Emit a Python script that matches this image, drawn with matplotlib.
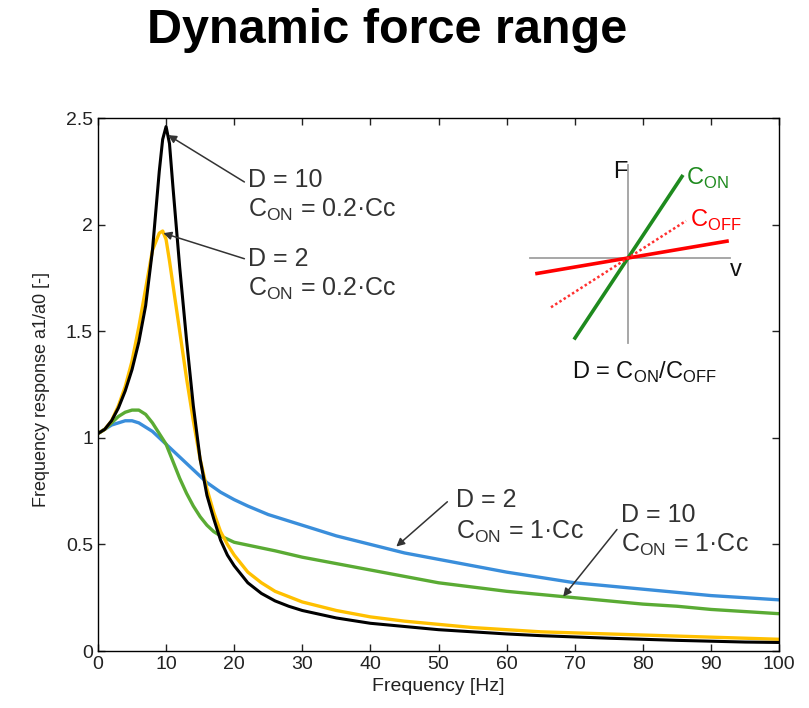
import numpy as np
import matplotlib.pyplot as plt

plt.rcParams['font.family'] = ['Liberation Sans', 'DejaVu Sans']
plt.rcParams['mathtext.fontset'] = 'custom'
plt.rcParams['mathtext.rm'] = 'Liberation Sans'

# D = 10, C_ON = 0.2 Cc (black)
x_black = [0, 1, 2, 3, 4, 5, 6, 7, 8, 9, 9.5, 10, 10.5, 11, 12, 13, 14, 15, 16, 17, 18, 19,
           20, 22, 24, 26, 28, 30, 35, 40, 45, 50, 55, 60, 65, 70, 75, 80, 85, 90, 95, 100]
y_black = [1.02, 1.04, 1.08, 1.14, 1.22, 1.32, 1.45, 1.62, 1.88, 2.25, 2.40, 2.46, 2.38, 2.18,
           1.80, 1.46, 1.15, 0.90, 0.73, 0.62, 0.52, 0.45, 0.40, 0.32, 0.27, 0.235, 0.21, 0.19,
           0.155, 0.13, 0.115, 0.10, 0.09, 0.08, 0.072, 0.066, 0.06, 0.055, 0.05, 0.046, 0.042, 0.04]

# D = 2, C_ON = 0.2 Cc (yellow)
x_yellow = x_black
y_yellow = [1.02, 1.04, 1.08, 1.15, 1.24, 1.36, 1.52, 1.70, 1.88, 1.96, 1.97, 1.93, 1.83, 1.72,
            1.50, 1.28, 1.08, 0.90, 0.76, 0.65, 0.56, 0.50, 0.45, 0.37, 0.32, 0.28, 0.255, 0.23,
            0.19, 0.16, 0.14, 0.125, 0.11, 0.10, 0.09, 0.085, 0.08, 0.075, 0.07, 0.065, 0.06, 0.055]

# D = 10, C_ON = 1 Cc (green)
x_green = [0, 1, 2, 3, 4, 5, 6, 7, 8, 9, 10, 11, 12, 13, 14, 15, 16, 17, 18, 20, 23, 26, 30,
           35, 40, 45, 50, 55, 60, 65, 70, 75, 80, 85, 90, 95, 100]
y_green = [1.02, 1.04, 1.07, 1.10, 1.12, 1.13, 1.13, 1.11, 1.07, 1.02, 0.97, 0.89, 0.81, 0.74,
           0.68, 0.63, 0.59, 0.56, 0.54, 0.51, 0.49, 0.47, 0.44, 0.41, 0.38, 0.35, 0.32, 0.30,
           0.28, 0.265, 0.25, 0.235, 0.22, 0.21, 0.195, 0.185, 0.175]

# D = 2, C_ON = 1 Cc (blue)
x_blue = [0, 1, 2, 3, 4, 5, 6, 7, 8, 9, 10, 12, 14, 16, 18, 20, 22, 25, 30, 35, 40, 45, 50,
          55, 60, 65, 70, 75, 80, 85, 90, 95, 100]
y_blue = [1.02, 1.04, 1.06, 1.07, 1.08, 1.08, 1.07, 1.05, 1.03, 1.00, 0.97, 0.91, 0.85, 0.79,
          0.745, 0.71, 0.68, 0.64, 0.59, 0.54, 0.50, 0.46, 0.43, 0.40, 0.37, 0.345, 0.32, 0.305,
          0.29, 0.275, 0.26, 0.25, 0.24]

narrow = ['Liberation Sans Narrow', 'Liberation Sans', 'DejaVu Sans']

fig = plt.figure(figsize=(8.09, 7.08), dpi=100)
ax = fig.add_axes([0.1211, 0.0805, 0.8419, 0.7528])

ax.plot(x_blue, y_blue, color='#3a8edb', lw=2.4)
ax.plot(x_green, y_green, color='#5aab34', lw=2.4)
ax.plot(x_yellow, y_yellow, color='#ffc000', lw=2.4)
ax.plot(x_black, y_black, color='black', lw=2.2)

ax.set_xlim(0, 100)
ax.set_ylim(0, 2.5)
ax.set_xticks(np.arange(0, 101, 10))
ax.set_yticks([0, 0.5, 1, 1.5, 2, 2.5])
ax.set_yticklabels(['0', '0.5', '1', '1.5', '2', '2.5'])
ax.tick_params(direction='in', top=True, right=True, length=5, labelsize=14, width=1,
               colors='#222222')
for lab in ax.get_xticklabels() + ax.get_yticklabels():
    lab.set_family(narrow)
for s in ax.spines.values():
    s.set_linewidth(1)
ax.set_xlabel('Frequency [Hz]', fontsize=14, color='#222222', labelpad=4, family=narrow)
ax.set_ylabel('Frequency response a1/a0 [-]', fontsize=13, color='#222222', family=narrow)
ax.yaxis.set_label_coords(-0.071, 0.49)

fig.text(0.479, 0.957, 'Dynamic force range', ha='center', va='center',
         fontsize=35, fontweight='bold')

# annotations
tc = '#333333'
arrow = dict(arrowstyle='-|>', color='#333333', lw=1.1, mutation_scale=12, shrinkA=0, shrinkB=0)
ax.annotate('', xy=(10.3, 2.42), xytext=(21.5, 2.2), arrowprops=arrow)
ax.text(22.0, 2.21, 'D = 10', fontsize=18, color=tc, va='center')
ax.text(22.0, 2.07, r'C$_{\mathrm{ON}}$ = 0.2·Cc', fontsize=18, color=tc, va='center')

ax.annotate('', xy=(9.6, 1.96), xytext=(21.5, 1.84), arrowprops=arrow)
ax.text(22.0, 1.84, 'D = 2', fontsize=18, color=tc, va='center')
ax.text(22.0, 1.70, r'C$_{\mathrm{ON}}$ = 0.2·Cc', fontsize=18, color=tc, va='center')

ax.annotate('', xy=(43.8, 0.49), xytext=(51.3, 0.70), arrowprops=arrow)
ax.text(52.5, 0.71, 'D = 2', fontsize=18, color=tc, va='center')
ax.text(52.5, 0.56, r'C$_{\mathrm{ON}}$ = 1·Cc', fontsize=18, color=tc, va='center')

ax.annotate('', xy=(68.3, 0.255), xytext=(76.2, 0.57), arrowprops=arrow)
ax.text(76.8, 0.64, 'D = 10', fontsize=18, color=tc, va='center')
ax.text(76.8, 0.50, r'C$_{\mathrm{ON}}$ = 1·Cc', fontsize=18, color=tc, va='center')

# inset diagram F-v
c_on = 1.51
c_off = 0.17
c_off_eq = 0.64
v_on = [-53, 54]
v_off = [-91, 99]
v_eq = [-77, 58]

ins = fig.add_axes([520 / 809, 1 - 390 / 708, 240 / 809, 240 / 708])
ins.set_xlim(-108, 132)
ins.set_ylim(-132, 108)
ins.axis('off')
ins.plot([-98, 102], [0, 0], color='#a0a0a0', lw=1.3)
ins.plot([0, 0], [-85, 93], color='#a0a0a0', lw=1.3)
ins.plot(v_on, [c_on * v for v in v_on], color='#1e8a1e', lw=2.6)
ins.plot(v_off, [c_off * v for v in v_off], color='#ff0000', lw=2.6)
ins.plot(v_eq, [c_off_eq * v for v in v_eq], color='#ff3030', lw=1.8, ls=(0, (1, 1)))
ins.text(-8, 86, 'F', fontsize=17, ha='center', va='center', color='#111111')
ins.text(108, -12, 'v', fontsize=17, ha='center', va='center', color='#111111')
ins.text(58, 80, r'C$_{\mathrm{ON}}$', fontsize=17, color='#1e8a1e', va='center')
ins.text(62, 38, r'C$_{\mathrm{OFF}}$', fontsize=17, color='#ff0000', va='center')
ins.text(17, -114, r'D = C$_{\mathrm{ON}}$/C$_{\mathrm{OFF}}$', fontsize=17, ha='center',
         va='center', color='#111111')

fig.savefig('out.png', dpi=100)
